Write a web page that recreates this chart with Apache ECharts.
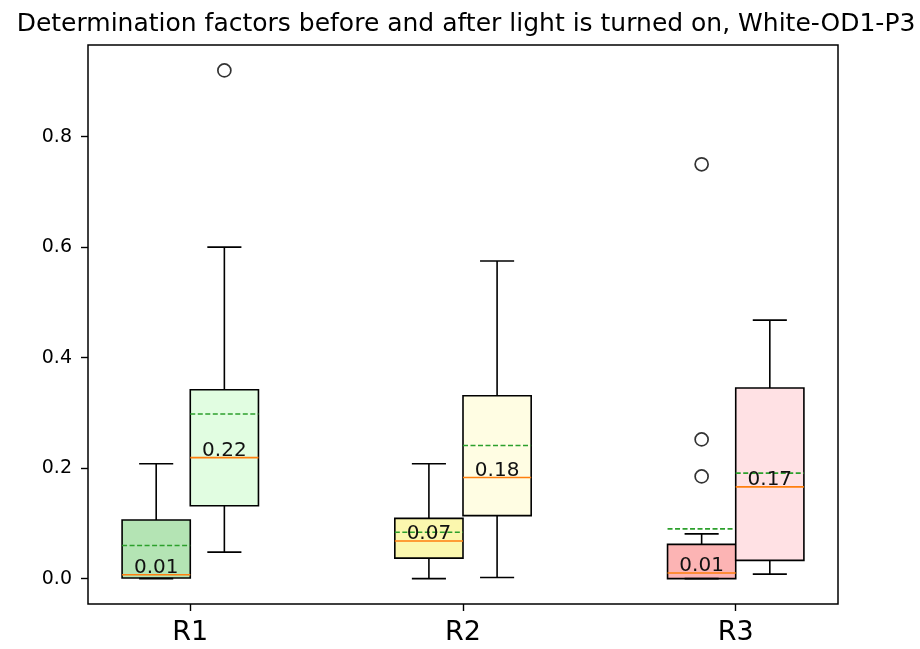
<!DOCTYPE html>
<html>
<head>
<meta charset="utf-8">
<script src="https://cdn.jsdelivr.net/npm/echarts@6/dist/echarts.min.js"></script>
<style>
html,body{margin:0;padding:0;background:#fff;}
#chart{width:920px;height:649px;}
</style>
</head>
<body>
<div id="chart"></div>
<script>
// ---- data ----
const categories = ['R1', 'R2', 'R3'];
// [min, q1, median, q3, max] per group
const beforeStats = [
  [0.000, 0.001, 0.007, 0.106, 0.208],
  [0.000, 0.037, 0.068, 0.109, 0.208],
  [0.000, 0.000, 0.010, 0.062, 0.081]
];
const afterStats = [
  [0.048, 0.132, 0.219, 0.342, 0.600],
  [0.002, 0.114, 0.183, 0.331, 0.575],
  [0.008, 0.033, 0.166, 0.345, 0.468]
];
const beforeMeans = [0.060, 0.084, 0.090];
const afterMeans = [0.298, 0.241, 0.191];
const beforeOutliers = [[], [], [0.750, 0.252, 0.185]];
const afterOutliers = [[0.920], [], []];
const yTicks = [0.0, 0.2, 0.4, 0.6, 0.8];

// ---- styles ----
const beforeColors = ['#b4e4b4', '#fbf7ae', '#fcb4b4'];
const afterColors = ['#e1fde1', '#fffde3', '#ffe1e4'];
const FONT = 'DejaVu Sans';

// build box items
const boxes = [];
const boxColors = [];
categories.forEach((c, i) => {
  const s1 = beforeStats[i], s2 = afterStats[i];
  boxes.push([i + 1 - 0.125].concat(s1, [beforeMeans[i]]));
  boxColors.push(beforeColors[i]);
  boxes.push([i + 1 + 0.125].concat(s2, [afterMeans[i]]));
  boxColors.push(afterColors[i]);
});
const outliers = [];
categories.forEach((c, i) => {
  beforeOutliers[i].forEach(v => outliers.push([i + 1 - 0.125, v]));
  afterOutliers[i].forEach(v => outliers.push([i + 1 + 0.125, v]));
});

const chart = echarts.init(document.getElementById('chart'), null, {renderer: 'canvas'});

function renderBox(params, api) {
  const x = api.value(0);
  const mn = api.value(1), q1 = api.value(2), md = api.value(3), q3 = api.value(4), mx = api.value(5), mean = api.value(6);
  const halfW = 0.125;
  const pL = api.coord([x - halfW, 0])[0];
  const pR = api.coord([x + halfW, 0])[0];
  const pC = api.coord([x, 0])[0];
  const capL = api.coord([x - halfW / 2, 0])[0];
  const capR = api.coord([x + halfW / 2, 0])[0];
  const y = v => api.coord([x, v])[1];
  const lw = 1.6;
  const black = '#000';
  const children = [
    {type: 'rect', shape: {x: pL, y: y(q3), width: pR - pL, height: y(q1) - y(q3)},
      style: {fill: boxColors[params.dataIndex], stroke: black, lineWidth: lw}},
    {type: 'line', shape: {x1: pC, y1: y(q3), x2: pC, y2: y(mx)}, style: {stroke: black, lineWidth: lw}},
    {type: 'line', shape: {x1: pC, y1: y(q1), x2: pC, y2: y(mn)}, style: {stroke: black, lineWidth: lw}},
    {type: 'line', shape: {x1: capL, y1: y(mx), x2: capR, y2: y(mx)}, style: {stroke: black, lineWidth: lw}},
    {type: 'line', shape: {x1: capL, y1: y(mn), x2: capR, y2: y(mn)}, style: {stroke: black, lineWidth: lw}},
    {type: 'line', shape: {x1: pL, y1: y(md), x2: pR, y2: y(md)}, style: {stroke: '#ff7f0e', lineWidth: lw}},
    {type: 'line', shape: {x1: pL, y1: y(mean), x2: pR, y2: y(mean)}, style: {stroke: '#2ca02c', lineWidth: lw, lineDash: [5, 2.5]}},
    {type: 'text', x: pC, y: y(md) + 3,
      style: {text: md.toFixed(2), fill: '#111', font: '20px "' + FONT + '"', align: 'center', verticalAlign: 'bottom'}}
  ];
  return {type: 'group', children: children};
}

chart.setOption({
  animation: false,
  backgroundColor: '#fff',
  title: {
    text: 'Determination factors before and after light is turned on, White-OD1-P3',
    left: 461, top: 7, textAlign: 'center',
    textStyle: {fontFamily: FONT, fontSize: 25, fontWeight: 'normal', color: '#000'}
  },
  grid: {left: 88, right: 82, top: 45, bottom: 45, show: true, borderColor: '#000', borderWidth: 1.5, backgroundColor: 'transparent'},
  xAxis: {
    type: 'value', min: 0.625, max: 3.375,
    splitLine: {show: false},
    axisLine: {show: false, onZero: false},
    axisTick: {show: true, customValues: [1, 2, 3], length: 7, lineStyle: {color: '#000', width: 1.4}},
    axisLabel: {customValues: [1, 2, 3], formatter: v => categories[Math.round(v) - 1] || '',
      fontFamily: FONT, fontSize: 27, color: '#000', margin: 15}
  },
  yAxis: {
    type: 'value', min: -0.046, max: 0.966,
    splitLine: {show: false},
    axisLine: {show: false, onZero: false},
    axisTick: {show: true, customValues: yTicks, length: 7, lineStyle: {color: '#000', width: 1.4}},
    axisLabel: {customValues: yTicks, formatter: v => v.toFixed(1),
      fontFamily: FONT, fontSize: 19, color: '#000', margin: 16}
  },
  series: [
    {type: 'custom', renderItem: renderBox, data: boxes, encode: {x: 0, y: [1, 2, 3, 4, 5]}, clip: false, z: 2},
    {type: 'scatter', data: outliers, symbol: 'circle', symbolSize: 13,
      itemStyle: {color: 'rgba(0,0,0,0)', borderColor: '#000', borderWidth: 1.7}, z: 3}
  ]
});
</script>
</body>
</html>
